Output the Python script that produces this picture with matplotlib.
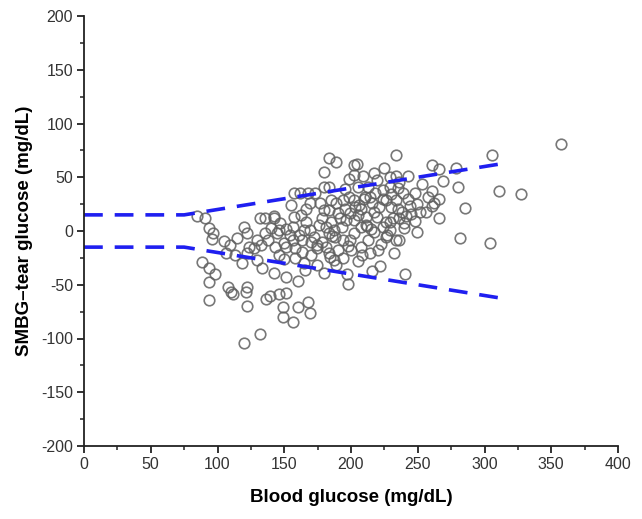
import matplotlib
matplotlib.use("Agg")
import matplotlib.pyplot as plt
from matplotlib.ticker import MultipleLocator

# Reference (blood glucose) values, mg/dL
blood = [
    357.4, 305.4, 311, 327, 303.8, 282, 285.5, 280.4, 278.8, 266, 260.4, 269, 266, 261, 266, 261, 257.5,
    240.7, 249.7, 247.9, 249.7, 247.6, 242.8, 233.7, 233.7, 224.4, 216.9, 238.8, 238.2, 239.6, 233.7,
    231.6, 230.3, 226.3, 223.6, 222.5, 221.5, 215.6, 205, 198, 202.3, 204.5, 209, 202.3, 189, 183.6,
    179.6, 180, 183.6, 195.6, 173, 167.6, 161.5, 157, 169, 166.6, 162.3, 157, 142.3, 131.6, 135.5,
    119.6, 122.3, 114.3, 109, 105, 106.3, 95.6, 97, 93.5, 85, 90.3, 88.4, 94, 98, 93.5, 94, 107.6,
    111.6, 110, 122.3, 121.7, 122.3, 120.2, 131.6, 136.4, 139.6, 146.3, 151, 148.8, 148.8, 156.4, 160,
    167.6, 169.5, 142.3, 133.3, 151, 160, 165.4, 129.7, 122.3, 127.6, 123.6, 129.5, 135.5, 143, 145.7,
    146.3, 151.6, 142.3, 154.2, 158.2, 163.5, 164.9, 158.2, 151.6, 164.9, 169, 174.3, 179.6, 174.3,
    178.4, 181, 183.6, 187.6, 189, 194.3, 190.3, 194.3, 199.6, 202.3, 207.6, 213, 214.3, 216.9, 223.6,
    219.6, 211.6, 207.6, 202.3, 199.6, 195.6, 190.3, 189, 183.6, 179.6, 193, 187.6, 183.6, 181, 202.3,
    207.6, 214.3, 213, 218.2, 210.3, 205, 198.3, 215.6, 228.9, 226.3, 236.2, 241.5, 244.2, 234.9,
    233.5, 228.9, 228.9, 236.2, 219.6, 198.3, 194.3, 185, 178.4, 174.3, 170.3, 163.5, 160.8, 156.8,
    147, 138.2, 132.9, 144.3, 149.7, 156.8,
    205, 212, 220, 226, 232, 240, 252, 197, 186, 176, 170, 155, 140, 118, 113,
    185, 192, 198, 206, 211, 217, 224, 229, 236, 243, 188, 196, 203, 210, 221, 227, 235, 245, 253,
    177, 184, 200, 215, 230, 172, 166, 150, 256, 262, 208,
]
# Difference (SMBG - tear glucose), mg/dL
diff = [
    81, 70.7, 37.2, 34.4, -10.9, -6.8, 21.4, 40.6, 58.9, 57.7, 61, 46.5, 30, 23.5, 12, 37.5, 31.3,
    -40, -1.2, 9, 25, 35.6, 51.5, 70.7, 51.5, 58.3, 53.7, 35.6, 17.4, 7.1, -8.4,
    11.8, 22.6, 28.8, 38, -12, -33, -37, -27.6, -49.3, 61.4, 62, 51.5, 52, 64.5, 67.6,
    55, 40.6, 41, 39.5, 35, 35, 35.6, 35, 25.7, 20.5, 14.9, 13.3, 14.3, 11.8, 11.8,
    4, -2.2, -6.8, -13, -9, -20.8, -7.7, -2.2, 2.5, 14, 11.8, -28.8, -34, -40, -47.5, -64, -51.8,
    -58.6, -57, -52.4, -56.4, -69.5, -103.9, -95.8, -63.6, -60.5, -59, -57.4, -71, -80.3, -84.3, -71,
    -65.8, -76.6, -39.4, -34.7, -43, -46.8, -36.3, -27, -20.8, -16, -14.6, -8.4, -2.2, -14.6, -22.3,
    0.8, 2.3, 11.8, -3.3, -25.4, -19.8, -30, -16.2, -14.6, 0.8, 0.8, -31.6, -39.4, -16.2,
    -10, -14.6, -20.8, -27, -31.6, -25.4, -17.7, -8.4, -8.4, -2.2, -14.6, -8.4, -20.8, -1.2, 3.5,
    12.7, 12.7, 20.5, 28.8, 16.4, 20.5, 16.4, 25.7, 19.5, 19.5, 4, 0.8, -2.2, 4, 10.2,
    4, 32, 41, 35, 32, 41, 32, 25.7, 0.8, -5.4, -8.4, 13.9, 23.5, 20.5,
    28.8, 41, 50.5, 46, 47, 48, 28.8, 28.8, 11.8, -13, -10, -8.4, -3.3, 4,
    7.8, -8.4, -13, -2.2, -11.5, -8.4,
    15, 5, -18, 8, -20, 3, 18, -40, -5, 6, -22, 24, 3, -30, -22,
    8, 12, -14, 24, 6, 18, 30, 8, 12, 30, -6, 10, 22, 30, 22, -4, 40, 16, 44,
    26, -24, -18, 2, 34, -6, 8, -26, 18, 26, -22,
]

# +/- 15 mg/dL below 75 mg/dL, +/- 20 % above (error-grid limits)
band_x = [0, 75, 310]
band_upper = [15, 15, 62]
band_lower = [-15, -15, -62]

x_ticks = [0, 50, 100, 150, 200, 250, 300, 350, 400]
y_ticks = [-200, -150, -100, -50, 0, 50, 100, 150, 200]

plt.rcParams['font.family'] = ['Liberation Sans', 'DejaVu Sans']
plt.rcParams['axes.unicode_minus'] = False

fig = plt.figure(figsize=(6.42, 5.19), dpi=100)
ax = fig.add_axes([84 / 642, 1 - 446 / 519, (618 - 84) / 642, (446 - 16) / 519])

ax.plot(blood, diff, linestyle='none', marker='o', markersize=7.6,
        markerfacecolor='none', markeredgecolor='#606060', markeredgewidth=1.2, alpha=0.85)

for yb in (band_upper, band_lower):
    ax.plot(band_x, yb, color='#1f1ff0', linewidth=2.6, dashes=(5.2, 3.3), solid_capstyle='butt')

ax.set_xlim(0, 400)
ax.set_ylim(-200, 200)
ax.set_xticks(x_ticks)
ax.set_yticks(y_ticks)
ax.xaxis.set_minor_locator(MultipleLocator(25))
ax.yaxis.set_minor_locator(MultipleLocator(25))

for s in ('top', 'right'):
    ax.spines[s].set_visible(False)
for s in ('left', 'bottom'):
    ax.spines[s].set_linewidth(1.3)
    ax.spines[s].set_color('#222222')

ax.tick_params(which='major', direction='out', length=5, width=1.3, colors='#222222',
               labelsize=11.5, labelcolor='#333333', pad=3)
ax.tick_params(which='minor', direction='out', length=3, width=1.1, colors='#222222')

ax.set_xlabel('Blood glucose (mg/dL)', fontsize=13.5, fontweight='bold', labelpad=12)
ax.set_ylabel('SMBG\u2013tear glucose (mg/dL)', fontsize=13.5, fontweight='bold', labelpad=6)

fig.savefig('out.png', dpi=100)
